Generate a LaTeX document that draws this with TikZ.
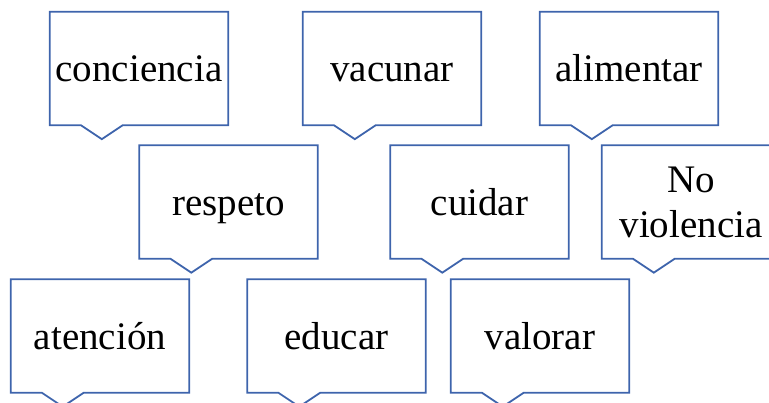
\documentclass[tikz,border=0pt]{standalone}
\usepackage{fontspec}
\setmainfont{Liberation Serif}
\definecolor{calloutblue}{RGB}{62,100,172}

\begin{document}
\begin{tikzpicture}[x=1pt,y=1pt,
  box/.style={rectangle,minimum width=178pt,minimum height=113pt,
    inner sep=0pt,align=center,font=\fontsize{39}{45}\selectfont},
  oneline/.style={box,text height=30pt,text depth=3pt},
  outline/.style={draw=calloutblue,line width=1.8pt,line join=miter}]

  \useasboundingbox (0,0) rectangle (769,402);

  \node[oneline] (conciencia) at (139,333.5) {conciencia};
  \node[oneline] (vacunar)    at (392,333.5) {vacunar};
  \node[oneline] (alimentar)  at (629,333.5) {alimentar};

  \node[oneline] (respeto)    at (228.5,200) {respeto};
  \node[oneline] (cuidar)     at (479.5,200) {cuidar};
  \node[box] (noviolencia) at (691,200) {No\\violencia};

  \node[oneline] (atencion)   at (100,66) {atención};
  \node[oneline] (educar)     at (336.5,66) {educar};
  \node[oneline] (valorar)    at (540,66) {valorar};

  % callout outlines with the pointer at the bottom
  \foreach \n in {conciencia,vacunar,alimentar,respeto,cuidar,noviolencia,atencion,educar,valorar}
    \draw[outline] (\n.south west) -- (\n.north west) -- (\n.north east)
      -- (\n.south east) -- ([xshift=73pt]\n.south west)
      -- ([xshift=52pt,yshift=-14pt]\n.south west)
      -- ([xshift=31pt]\n.south west) -- cycle;
\end{tikzpicture}
\end{document}
